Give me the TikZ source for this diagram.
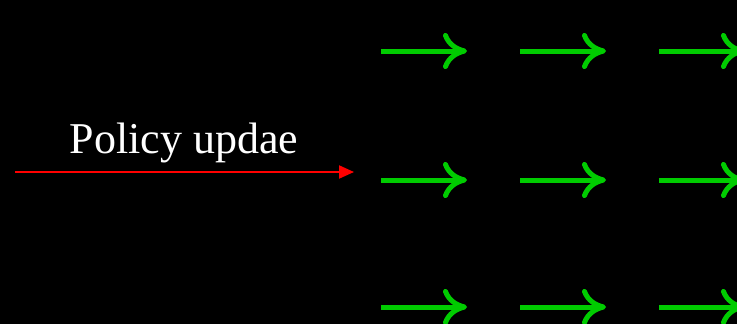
\documentclass[tikz,border=0pt]{standalone}
\usepackage{fontspec}
\setmainfont{Liberation Serif}
\usetikzlibrary{arrows.meta}
\definecolor{stepgreen}{RGB}{0,204,0}
\tikzset{
  flow/.style={line width=5pt, color=stepgreen, line cap=butt,
    -{Computer Modern Rightarrow[length=24pt,width=36pt]}},
  update/.style={line width=2pt, color=red,
    -{Triangle[length=15pt,width=13pt]}},
  label/.style={text=white, inner sep=0pt, anchor=base,
    font=\fontsize{44}{50}\selectfont}
}
\begin{document}
\begin{tikzpicture}[x=1pt,y=-1pt]
  \fill[black] (0,0) rectangle (737,324);
  \clip (0,0) rectangle (737,324);
  \useasboundingbox (0,0) rectangle (737,324);

  % policy update arrow with its label
  \coordinate (u0) at (15,172);
  \coordinate (u1) at (354,172);
  \draw[update] (u0) -- (u1);
  \node[label] (lbl) at (184,153) {Policy updae};

  % grid of green action arrows
  \foreach \r/\y in {1/51,2/180,3/307}{
    \foreach \c/\x in {1/381,2/520,3/659}{
      \coordinate (g\r\c s) at (\x,\y);
      \coordinate (g\r\c e) at (\x+86,\y);
      \draw[flow] (g\r\c s) -- (g\r\c e);
    }
  }
\end{tikzpicture}
\end{document}
